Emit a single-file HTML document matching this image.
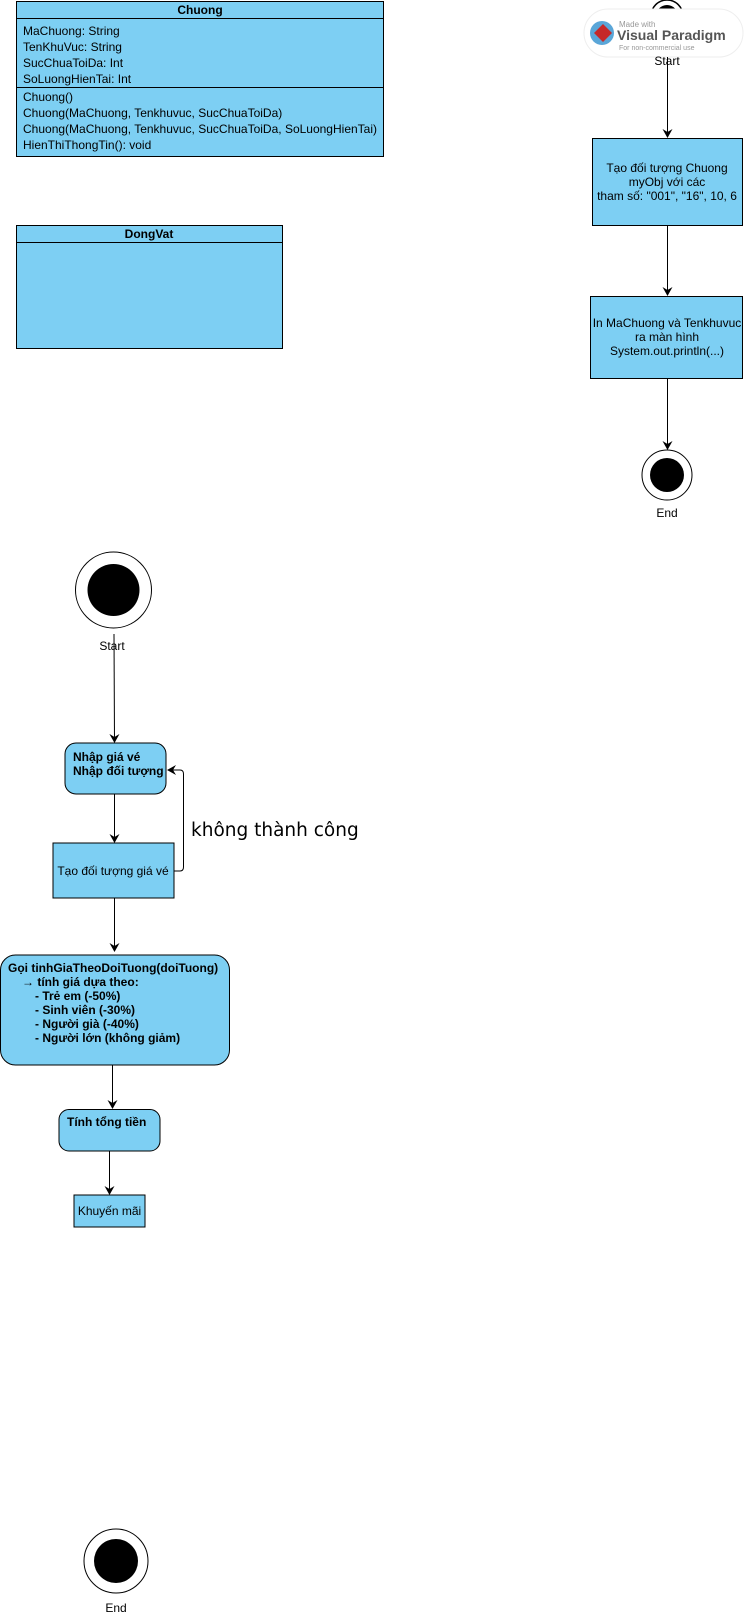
<!DOCTYPE html>
<html><head><meta charset="utf-8"><style>
html,body{margin:0;padding:0;background:#fff;}
svg{display:block;}
text{font-family:"Liberation Sans","DejaVu Sans",sans-serif;font-size:12px;fill:#000;}
.b{font-weight:bold;}
</style></head><body>
<svg width="744" height="1615" viewBox="0 0 744 1615" xmlns="http://www.w3.org/2000/svg">
<defs><marker id="a" markerWidth="10" markerHeight="10" refX="8" refY="5" orient="auto" markerUnits="userSpaceOnUse"><path d="M0,0 L9,5 L0,10 L3,5 z" fill="#000"/></marker></defs>
<rect x="16.5" y="1.5" width="367" height="155" fill="#7dcff3" stroke="#000"/>
<line x1="16.5" y1="18.5" x2="383.5" y2="18.5" stroke="#000"/>
<line x1="16.5" y1="87.5" x2="383.5" y2="87.5" stroke="#000"/>
<text x="200" y="14" text-anchor="middle" class="b">Chuong</text>
<text x="23" y="35">MaChuong: String</text>
<text x="23" y="51">TenKhuVuc: String</text>
<text x="23" y="67">SucChuaToiDa: Int</text>
<text x="23" y="83">SoLuongHienTai: Int</text>
<text x="23" y="101">Chuong()</text>
<text x="23" y="117">Chuong(MaChuong, Tenkhuvuc, SucChuaToiDa)</text>
<text x="23" y="133">Chuong(MaChuong, Tenkhuvuc, SucChuaToiDa, SoLuongHienTai)</text>
<text x="23" y="149">HienThiThongTin(): void</text>
<rect x="16.5" y="225.5" width="266" height="123" fill="#7dcff3" stroke="#000"/>
<line x1="16.5" y1="242.5" x2="282.5" y2="242.5" stroke="#000"/>
<text x="149" y="238" text-anchor="middle" class="b">DongVat</text>
<circle cx="667" cy="16" r="16" fill="#fff" stroke="#000" stroke-width="1.5"/>
<circle cx="667" cy="16" r="11" fill="#000"/>
<rect x="584" y="9" width="159" height="48" rx="24" fill="#fff" stroke="#eee"/>
<circle cx="602" cy="33" r="12" fill="#5aa6d8"/>
<path d="M603 24 l9 9 -9 9 -9 -9z" fill="#c62828"/>
<text x="619" y="27" style="font-size:8px;fill:#999">Made with</text>
<text x="617" y="40" class="b" style="font-size:14px;fill:#555">Visual Paradigm</text>
<text x="619" y="50" style="font-size:7px;fill:#999">For non-commercial use</text>
<text x="667" y="65" text-anchor="middle">Start</text>
<line x1="667.5" y1="57" x2="667.5" y2="137" stroke="#000" marker-end="url(#a)"/>
<rect x="592.5" y="138.5" width="150" height="87" fill="#7dcff3" stroke="#000"/>
<text x="667" y="172" text-anchor="middle">Tạo đối tượng Chuong</text>
<text x="667" y="186" text-anchor="middle">myObj với các</text>
<text x="667" y="200" text-anchor="middle">tham số: "001", "16", 10, 6</text>
<line x1="667.5" y1="226" x2="667.5" y2="295" stroke="#000" marker-end="url(#a)"/>
<rect x="590.5" y="296.5" width="152" height="82" fill="#7dcff3" stroke="#000"/>
<text x="667" y="327" text-anchor="middle">In MaChuong và Tenkhuvuc</text>
<text x="667" y="341" text-anchor="middle">ra màn hình</text>
<text x="667" y="355" text-anchor="middle">System.out.println(...)</text>
<line x1="667.5" y1="379" x2="667.5" y2="449" stroke="#000" marker-end="url(#a)"/>
<circle cx="667" cy="475" r="25" fill="#fff" stroke="#000"/>
<circle cx="667" cy="475" r="17" fill="#000"/>
<text x="667" y="517" text-anchor="middle">End</text>
<circle cx="113.5" cy="590" r="38" fill="#fff" stroke="#000"/>
<circle cx="113.5" cy="590" r="26" fill="#000"/>
<text x="112" y="650" text-anchor="middle">Start</text>
<line x1="114" y1="634" x2="114.5" y2="742" stroke="#000" marker-end="url(#a)"/>
<rect x="65" y="743" width="101" height="51" rx="11" fill="#7dcff3" stroke="#000"/>
<text x="73" y="761" class="b">Nhập giá vé</text>
<text x="73" y="775" class="b">Nhập đối tượng</text>
<line x1="114.5" y1="794" x2="114.5" y2="842" stroke="#000" marker-end="url(#a)"/>
<rect x="53" y="843" width="121" height="55" fill="#7dcff3" stroke="#000"/>
<text x="113" y="875" text-anchor="middle">Tạo đối tượng giá vé</text>
<path d="M174 871 H180 Q183.5 871 183.5 867 V774 Q183.5 770 180 770 H168" fill="none" stroke="#000" marker-end="url(#a)"/>
<text x="191" y="836" style="font-family:'DejaVu Sans',sans-serif;font-size:18.5px">không thành công</text>
<line x1="114.5" y1="898" x2="114.5" y2="951" stroke="#000" marker-end="url(#a)"/>
<rect x="0.5" y="955" width="229" height="110" rx="15" fill="#7dcff3" stroke="#000"/>
<text x="8" y="972" class="b">Gọi tinhGiaTheoDoiTuong(doiTuong)</text>
<text x="22" y="986" class="b">→ tính giá dựa theo:</text>
<text x="35" y="1000" class="b">- Trẻ em (-50%)</text>
<text x="35" y="1014" class="b">- Sinh viên (-30%)</text>
<text x="35" y="1028" class="b">- Người già (-40%)</text>
<text x="35" y="1042" class="b">- Người lớn (không giảm)</text>
<line x1="112.5" y1="1065" x2="112.5" y2="1108" stroke="#000" marker-end="url(#a)"/>
<rect x="59" y="1109.5" width="101" height="41.5" rx="10" fill="#7dcff3" stroke="#000"/>
<text x="67" y="1126" class="b">Tính tổng tiền</text>
<line x1="109.5" y1="1151" x2="109.5" y2="1194" stroke="#000" marker-end="url(#a)"/>
<rect x="74" y="1195" width="71" height="32" fill="#7dcff3" stroke="#000"/>
<text x="109.5" y="1215" text-anchor="middle">Khuyến mãi</text>
<circle cx="116" cy="1561" r="32" fill="#fff" stroke="#000"/>
<circle cx="116" cy="1561" r="22" fill="#000"/>
<text x="116" y="1612" text-anchor="middle">End</text>
</svg>
</body></html>
